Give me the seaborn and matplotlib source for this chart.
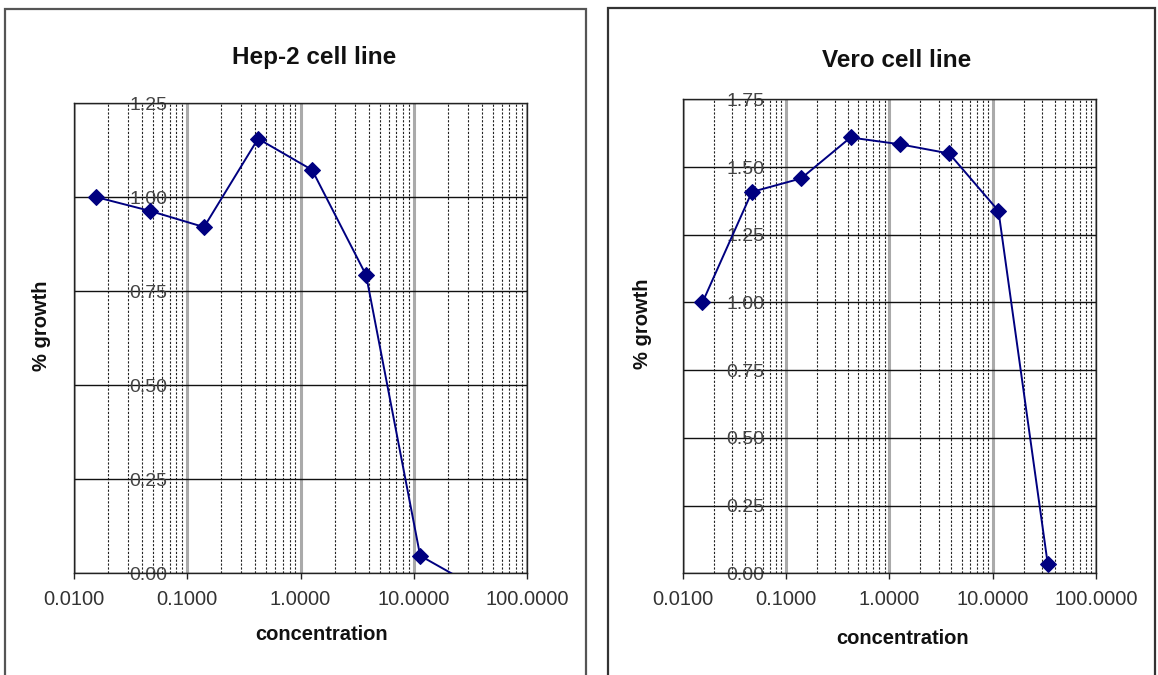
import numpy as np
import pandas as pd
import matplotlib
matplotlib.use("Agg")
import matplotlib.pyplot as plt
import seaborn as sns
from matplotlib.ticker import FixedLocator, LogLocator, FormatStrFormatter, NullFormatter
from matplotlib.patches import Rectangle

# values (3-fold dilution series)
concentration = [0.0156, 0.0469, 0.1406, 0.4219, 1.2656, 3.7969, 11.3906, 34.1719]
hep2_growth = [1.00, 0.963, 0.92, 1.155, 1.072, 0.792, 0.046, -0.035]
vero_growth = [1.00, 1.408, 1.458, 1.609, 1.584, 1.550, 1.338, 0.033]

hep2_yticks = [0.0, 0.25, 0.5, 0.75, 1.0, 1.25]
vero_yticks = [0.0, 0.25, 0.5, 0.75, 1.0, 1.25, 1.5, 1.75]
xticks = [0.01, 0.1, 1, 10, 100]

sns.set_style("white")
plt.rcParams['font.family'] = ['Liberation Sans', 'DejaVu Sans']

W, H = 1158, 675
fig = plt.figure(figsize=(W / 100, H / 100), dpi=100)


def px_axes(l, t, r, b):
    return fig.add_axes([l / W, 1 - b / H, (r - l) / W, (b - t) / H])


def draw_panel(ax, y, yticks, title, title_xy, ylab_x, xlab_xy, ypad):
    df = pd.DataFrame({'concentration': concentration, 'growth': y})
    ax.set_xscale('log')
    sns.lineplot(data=df, x='concentration', y='growth', ax=ax, marker='D',
                 color='#000080', markersize=8.5, markeredgecolor='#000080',
                 linewidth=1.4, sort=False, zorder=5)
    ax.set_xlim(0.01, 100)
    ax.set_ylim(0, yticks[-1])

    ax.xaxis.set_major_locator(FixedLocator(xticks))
    ax.xaxis.set_major_formatter(FormatStrFormatter('%.4f'))
    ax.xaxis.set_minor_locator(LogLocator(base=10, subs=np.arange(2, 10)))
    ax.xaxis.set_minor_formatter(NullFormatter())
    ax.yaxis.set_major_locator(FixedLocator(yticks))
    ax.yaxis.set_major_formatter(FormatStrFormatter('%.2f'))

    ax.grid(False)
    ax.grid(True, which='minor', axis='x', color='#222222', linestyle=(0, (2, 1.5)), linewidth=0.8)
    ax.grid(True, which='major', axis='x', color='#aaaaaa', linestyle='-', linewidth=2.2)
    ax.grid(True, which='major', axis='y', color='#111111', linestyle='-', linewidth=1.0)

    ax.tick_params(axis='x', which='major', bottom=True, direction='out', length=4,
                   width=1, color='#222222', labelsize=14.5, labelcolor='#333333', pad=8)
    ax.tick_params(axis='x', which='minor', bottom=False)
    ax.tick_params(axis='y', left=False, length=0, labelsize=14, labelcolor='#444444', pad=ypad)
    for s in ax.spines.values():
        s.set_visible(True)
        s.set_color('#222222')
        s.set_linewidth(1.0)

    ax.set_xlabel('concentration', fontsize=14.5, fontweight='bold', color='#111111')
    ax.set_ylabel('% growth', fontsize=14.5, fontweight='bold', color='#111111')
    ax.xaxis.set_label_coords(*xlab_xy)
    ax.yaxis.set_label_coords(ylab_x, 0.527)
    fig.text(title_xy[0] / W, 1 - title_xy[1] / H, title, ha='center', va='baseline',
             fontsize=17.5, fontweight='bold', color='#111111')


# chart frames
fig.patches.append(Rectangle((5 / W, -0.02), 581 / W, 1.02 - 9 / H, transform=fig.transFigure,
                             fill=False, edgecolor='#555555', linewidth=1.6))
fig.patches.append(Rectangle((608 / W, -0.02), 547 / W, 1.02 - 8 / H, transform=fig.transFigure,
                             fill=False, edgecolor='#333333', linewidth=1.6))

ax1 = px_axes(74, 103, 527, 573)
draw_panel(ax1, hep2_growth, hep2_yticks, 'Hep-2 cell line', (314, 64),
           -0.050, (0.547, -0.11), -67)

ax2 = px_axes(682.5, 99.3, 1096, 573.3)
draw_panel(ax2, vero_growth, vero_yticks, 'Vero cell line', (897, 67),
           -0.073, (0.533, -0.118), -59)

fig.savefig('out.png', dpi=100)
